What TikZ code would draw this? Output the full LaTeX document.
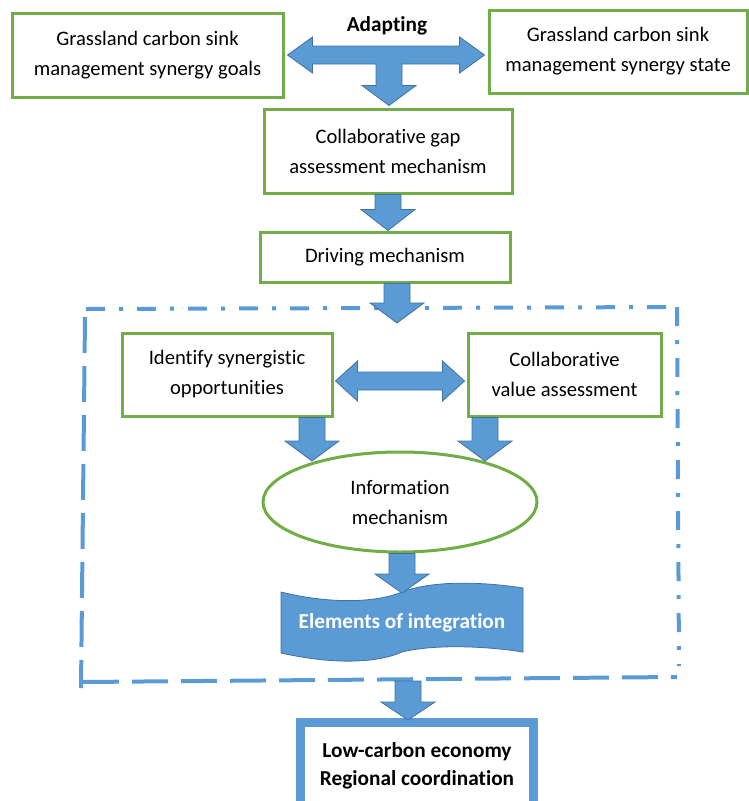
\documentclass[tikz,border=0pt]{standalone}
\usepackage{fontspec}
\setmainfont[Ligatures=NoCommon]{Carlito}
\usetikzlibrary{calc,shapes.geometric}
\definecolor{grn}{HTML}{70AD47}
\definecolor{blu}{HTML}{5B9BD5}
\definecolor{bdk}{HTML}{41719C}
\newcommand{\downblock}[4]{%
  \path[barrow] let \p1=#1, \p2=#2, \p3=#3 in
  (\x1-13pt,\y2) -- (\x1+13pt,\y2) -- (\x1+13pt,\y3+#4) -- (\x1+27pt,\y3+#4) --
  (\x1,\y3) -- (\x1-27pt,\y3+#4) -- (\x1-13pt,\y3+#4) -- cycle;}
\begin{document}
\begin{tikzpicture}[x=1pt,y=-1pt,
  txt/.style={font=\fontsize{20.6}{30}\selectfont,align=center},
  btxt/.style={font=\fontsize{21.3}{28}\selectfont\bfseries,align=center},
  gbox/.style={txt,draw=grn,line width=3pt,fill=white,inner sep=0pt},
  barrow/.style={fill=blu,draw=bdk,line width=0.8pt,line join=miter},
  frameDD/.style={draw=blu,line width=4pt,dash pattern=on 19pt off 14pt on 4pt off 14pt},
  frameD/.style={draw=blu,line width=4pt,dash pattern=on 36pt off 13pt}]
\useasboundingbox (0,0) rectangle (748,801);

% dashed frame
\coordinate (f1) at (86,309);
\coordinate (f2) at (677,307);
\coordinate (f3) at (679,666);
\coordinate (f5) at (83,682);
\coordinate (f6) at (677,677);
\coordinate (f7) at (85,317);
\coordinate (f8) at (81,688);
\draw[frameDD] (f1) -- (f2);
\draw[frameDD] (f2) -- (f3);
\draw[frameD] (f5) -- (f6);
\draw[frameD] (f7) -- (f8);

% nodes
\node[gbox,minimum width=271pt,minimum height=84pt] (goals) at (147.5,55)
  {Grassland carbon sink\\management synergy goals};
\node[gbox,minimum width=258pt,minimum height=83pt] (state) at (618,51.5)
  {Grassland carbon sink\\management synergy state};
\node[btxt] (adapt) at (387,26) {Adapting};
\node[gbox,minimum width=248pt,minimum height=84pt] (gap) at (388,151)
  {Collaborative gap\\assessment mechanism};
\node[gbox,minimum width=250pt,minimum height=50pt] (driving) at (385,257)
  {Driving mechanism};
\node[gbox,minimum width=210pt,minimum height=83pt] (identify) at (227,374.5)
  {Identify synergistic\\opportunities};
\node[gbox,minimum width=193pt,minimum height=83pt] (value) at (564.5,374.5)
  {Collaborative\\value assessment};
\node[gbox,ellipse,minimum width=274pt,minimum height=100pt] (info) at (400,502)
  {Information\\mechanism};

% elements of integration (punched tape)
\path[barrow] (281,592) .. controls (330,604) and (375,603) .. (402,592)
  .. controls (430,581) and (478,581) .. (523,588) -- (523,652)
  .. controls (478,645) and (430,645) .. (402,652)
  .. controls (375,664) and (330,664) .. (281,653) -- cycle;
\node[btxt,text=white] (elements) at (402,623) {Elements of integration};

% result box
\node[btxt,draw=blu,line width=9pt,
  minimum width=233pt,minimum height=87pt,inner sep=0pt] (result) at (417,766)
  {Low-carbon economy\\Regional coordination};

% T-shaped adapting arrow
\coordinate (hub) at (389,55);
\path[barrow] let \p1=(goals.east), \p2=(state.west), \p3=(hub), \p4=(gap.north) in
  (\x1+3pt,\y3) -- (\x1+28pt,\y3+18pt) -- (\x1+28pt,\y3+9pt) -- (\x2-28pt,\y3+9pt) --
  (\x2-28pt,\y3+18pt) -- (\x2-3pt,\y3) -- (\x2-28pt,\y3-18pt) -- (\x2-28pt,\y3-9pt) --
  (\x3+13pt,\y3-9pt) -- (\x3+13pt,\y4+22pt) -- (\x3+27pt,\y4+22pt) -- (\x3,\y4+2pt) --
  (\x3-27pt,\y4+22pt) -- (\x3-13pt,\y4+22pt) -- (\x3-13pt,\y3-9pt) --
  (\x1+28pt,\y3-9pt) -- (\x1+28pt,\y3-18pt) -- cycle;

% down arrows
\downblock{(gap.south)}{(gap.south)}{(driving.north)}{21pt}
\coordinate (ftip) at (397,323);
\downblock{(ftip)}{(driving.south)}{(ftip)}{20pt}
\coordinate (lt) at (312,461);
\downblock{(lt)}{(identify.south)}{(lt)}{20pt}
\coordinate (rt) at (485,461);
\downblock{(rt)}{(value.south)}{(rt)}{20pt}
\coordinate (etip) at (402,593);
\downblock{(etip)}{(info.south)}{(etip)}{19pt}
\coordinate (fbot) at (408,681);
\coordinate (rtip) at (408,720);
\downblock{(rtip)}{(fbot)}{(rtip)}{18pt}

% double arrow between identify and value
\coordinate (mid2) at (400,381);
\path[barrow] let \p1=(identify.east), \p2=(value.west), \p3=(mid2) in
  (\x1+2pt,\y3) -- (\x1+24pt,\y3+20pt) -- (\x1+24pt,\y3+9pt) -- (\x2-24pt,\y3+9pt) --
  (\x2-24pt,\y3+20pt) -- (\x2-2pt,\y3) -- (\x2-24pt,\y3-20pt) -- (\x2-24pt,\y3-9pt) --
  (\x1+24pt,\y3-9pt) -- (\x1+24pt,\y3-20pt) -- cycle;
\end{tikzpicture}
\end{document}
